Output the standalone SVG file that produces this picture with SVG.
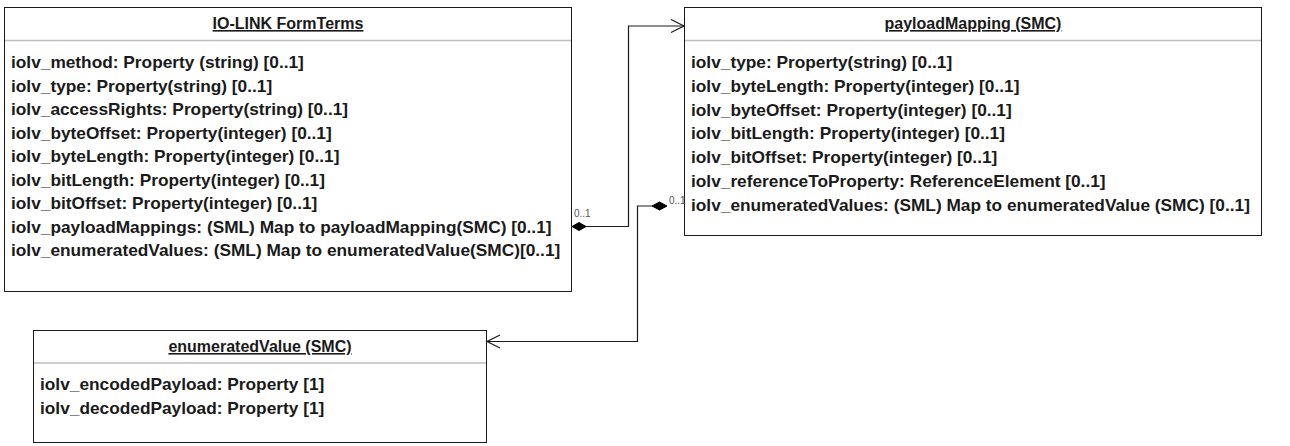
<svg xmlns="http://www.w3.org/2000/svg" width="1290" height="446" viewBox="0 0 1290 446">
<style>
.box{fill:#fff;stroke:#1a1a1a;stroke-width:1}
.div{stroke:#bdbdbd;stroke-width:1.5}
.title{font-family:"Liberation Sans",Arial,sans-serif;font-size:16px;font-weight:bold;fill:#1a1a1a;text-anchor:middle;text-decoration:underline}
.attr{font-family:"Liberation Sans",Arial,sans-serif;font-size:17.3px;font-weight:bold;fill:#1a1a1a}
.lbl{font-family:"Liberation Sans",Arial,sans-serif;font-size:10px;fill:#555}
.conn{fill:none;stroke:#1a1a1a;stroke-width:1.2}
.arrow{fill:none;stroke:#1a1a1a;stroke-width:1.2}
.dia{fill:#000;stroke:#000;stroke-width:1}
</style>
<rect width="1290" height="446" fill="#fff"/>
<g id="ioLinkFormTerms">
<rect class="box" x="4.5" y="7.5" width="567" height="284"/>
<line class="div" x1="5" y1="40.5" x2="571" y2="40.5"/>
<text class="title" x="288" y="29">IO-LINK FormTerms</text>
<text class="attr" x="11" y="68">iolv_method: Property (string) [0..1]</text>
<text class="attr" x="11" y="91.5">iolv_type: Property(string) [0..1]</text>
<text class="attr" x="11" y="115">iolv_accessRights: Property(string) [0..1]</text>
<text class="attr" x="11" y="138.5">iolv_byteOffset: Property(integer) [0..1]</text>
<text class="attr" x="11" y="162">iolv_byteLength: Property(integer) [0..1]</text>
<text class="attr" x="11" y="185.5">iolv_bitLength: Property(integer) [0..1]</text>
<text class="attr" x="11" y="209">iolv_bitOffset: Property(integer) [0..1]</text>
<text class="attr" x="11" y="232.5">iolv_payloadMappings: (SML) Map to payloadMapping(SMC) [0..1]</text>
<text class="attr" x="11" y="256">iolv_enumeratedValues: (SML) Map to enumeratedValue(SMC)[0..1]</text>
</g>
<g id="payloadMapping">
<rect class="box" x="684.5" y="7.5" width="577" height="228"/>
<line class="div" x1="685" y1="40.5" x2="1261" y2="40.5"/>
<text class="title" x="973" y="29">payloadMapping (SMC)</text>
<text class="attr" x="691" y="68">iolv_type: Property(string) [0..1]</text>
<text class="attr" x="691" y="91.75">iolv_byteLength: Property(integer) [0..1]</text>
<text class="attr" x="691" y="115.5">iolv_byteOffset: Property(integer) [0..1]</text>
<text class="attr" x="691" y="139.25">iolv_bitLength: Property(integer) [0..1]</text>
<text class="attr" x="691" y="163">iolv_bitOffset: Property(integer) [0..1]</text>
<text class="attr" x="691" y="186.75">iolv_referenceToProperty: ReferenceElement [0..1]</text>
<text class="attr" x="691" y="210.5">iolv_enumeratedValues: (SML) Map to enumeratedValue (SMC) [0..1]</text>
</g>
<g id="enumeratedValue">
<rect class="box" x="33.5" y="330.5" width="453" height="112"/>
<line class="div" x1="34" y1="363" x2="486" y2="363"/>
<text class="title" x="260" y="352">enumeratedValue (SMC)</text>
<text class="attr" x="40" y="390">iolv_encodedPayload: Property [1]</text>
<text class="attr" x="40" y="414">iolv_decodedPayload: Property [1]</text>
</g>
<g id="connectors">
<polyline class="conn" points="586,226.5 628.5,226.5 628.5,26 684,26"/>
<polygon class="dia" points="572,226.5 579,222.5 586,226.5 579,230.5"/>
<polyline class="arrow" points="671,19.5 684,26 671,32.5"/>
<text class="lbl" x="574" y="217">0..1</text>
<polyline class="conn" points="652,206 637.5,206 637.5,341.5 487,341.5"/>
<polygon class="dia" points="652,206 659.5,202 667,206 659.5,210"/>
<polyline class="arrow" points="500,335 487,341.5 500,348"/>
<text class="lbl" x="669" y="204">0..1</text>
</g>
</svg>
